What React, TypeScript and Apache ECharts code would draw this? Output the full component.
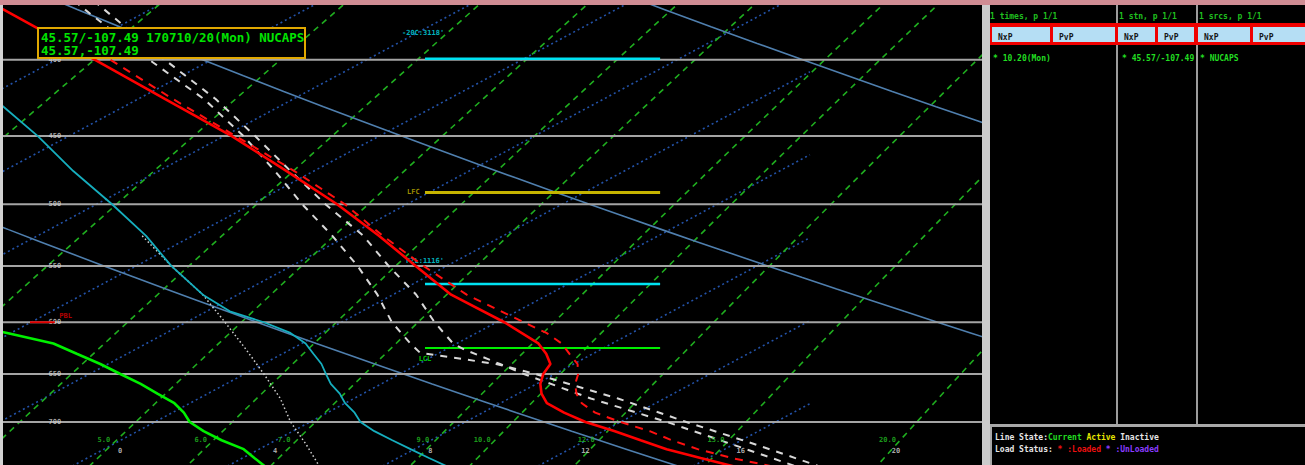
import React, { useEffect, useRef } from "react";
import * as echarts from "echarts";

const WIDTH = 1305;
const HEIGHT = 465;

// ---- skew-T geometry ----
const SKEW = 31.2; // degC of horizontal shift per ln(p) unit
const P_REF = 727.6; // hPa where plotted x equals temperature
const X_MIN = -2.706;
const X_MAX = 22.526;
const P_MIN = 367.5;
const P_MAX = 748.1;

// ---- background reference lines ----
const isobars = [400, 450, 500, 550, 600, 650, 700];
const isobarLabelX = -1.37;
const isotherms = [-28, -24, -20, -16, -12, -8, -4, 0, 4, 8, 12, 16, 20];
const isothermLabels = [0, 4, 8, 12, 16, 20];
const ISOTHERM_LABEL_P = 732;
const ISOTHERM_END = 18.09;
const dryAdiabatsK = [313.6, 333.9, 354.0];
const mixingRatios = [2, 3, 4, 5, 6, 7, 9, 10, 12, 15, 20];
const mixingLabels = [5, 6, 7, 9, 10, 12, 15, 20];
const MIX_SHIFT = 0.75;
const MIX_LABEL_P = 719.7;

// ---- sounding (hPa, degC) ----
const tempP = [360, 370, 400, 425, 450, 475, 500, 525, 550, 575, 600, 620, 630, 640, 650, 660, 670, 680, 690, 700, 710, 720, 730, 740, 750, 760];
const tempC = [-25.5, -23.8, -19.0, -15.3, -11.8, -8.7, -5.8, -3.2, -0.8, 1.5, 4.2, 6.1, 6.8, 7.4, 7.7, 8.1, 8.6, 9.2, 10.1, 11.1, 12.3, 13.4, 14.5, 15.8, 17.1, 18.3];

const virtP = [400, 425, 450, 475, 500, 525, 550, 575, 600, 610, 620, 630, 640, 650, 660, 670, 680, 690, 700, 710, 720, 730, 740, 750];
const virtC = [-18.6, -15.1, -11.7, -8.5, -5.6, -3.1, -0.6, 1.9, 4.7, 5.8, 6.7, 7.4, 8.1, 8.6, 9.0, 9.5, 10.1, 10.9, 12.0, 13.2, 14.2, 15.3, 16.6, 18.1];

const dewP = [600, 610, 620, 630, 640, 650, 660, 670, 680, 690, 700, 710, 720, 730, 740, 750, 760];
const dewC = [-10.0, -8.1, -6.4, -5.3, -4.2, -3.2, -2.2, -1.3, -0.4, 0.3, 0.9, 1.7, 2.6, 3.6, 4.3, 5.0, 5.6];

const wetP = [400, 425, 450, 475, 500, 525, 550, 575, 590, 600, 610, 620, 630, 640, 650, 660, 670, 680, 690, 700, 710, 720, 730, 740, 750];
const wetC = [-22.7, -19.7, -16.8, -14.2, -11.6, -9.2, -7.1, -4.9, -3.4, -2.0, -0.8, 0.1, 0.8, 1.5, 2.1, 2.7, 3.4, 4.0, 4.7, 5.3, 6.1, 7.0, 7.9, 8.8, 9.7];

const dotP = [525, 550, 575, 600, 625, 650, 675, 700, 725, 750];
const dotC = [-9.3, -7.1, -4.9, -3.0, -1.2, 0.5, 2.1, 3.5, 5.0, 6.4];

const parcel1P = [360, 370, 400, 425, 450, 475, 500, 525, 550, 575, 600, 620, 629, 640, 650, 675, 700, 725, 750];
const parcel1C = [-23.1, -21.7, -17.6, -14.3, -11.5, -9.0, -6.7, -4.4, -2.3, -0.4, 1.3, 2.8, 3.5, 6.0, 7.5, 10.8, 13.7, 16.6, 19.3];
const parcel2P = [360, 370, 400, 425, 450, 475, 500, 525, 550, 575, 600, 620, 626, 640, 650, 675, 700, 725, 750];
const parcel2C = [-22.6, -21.2, -17.2, -14.0, -11.2, -8.6, -6.1, -3.6, -1.5, 0.6, 2.4, 3.9, 4.5, 6.1, 7.2, 10.1, 13.2, 16.0, 18.7];

// ---- level markers ----
const levelNames = ["-20C:3118'", "LFC", "FZL:1116'", "LCL"];
const levelP = [399.4, 491.0, 565.5, 624.4];
const levelLabelP = [384.0, 491.0, 546.0, 635.0];
const levelLabelX = [8.12, 8.1, 8.17, 8.17];
const LEVEL_X = [8.17, 14.23];
const pblP = 600;
const pblX = [-2.01, -1.37];

// ---- right-hand panel texts ----
const headerTexts = ["1 times, p 1/1", "1 stn, p 1/1", "1 srcs, p 1/1"];
const itemTexts = ["* 10.20(Mon)", "* 45.57/-107.49", "* NUCAPS"];
const buttonTexts = ["NxP", "PvP", "NxP", "PvP", "NxP", "PvP"];
const titleLines = ["45.57/-107.49 170710/20(Mon) NUCAPS", "45.57,-107.49"];

const skewX = (t: number, p: number) => t + SKEW * Math.log(P_REF / p);
const pts = (ps: number[], ts: number[]) => ps.map((p, i) => [skewX(ts[i], p), p]);
const range = (a: number, b: number, s: number) => {
  const r: number[] = [];
  for (let v = a; v <= b + 1e-9; v += s) r.push(v);
  return r;
};
const tdForMixing = (w: number, p: number) => {
  const e = (w * p) / (622 + w);
  const l = Math.log(e / 6.112);
  return (243.5 * l) / (17.67 - l) + MIX_SHIFT;
};

const line = (data: number[][], color: string, width: number, type: any, z: number) => ({
  type: "line",
  data,
  symbol: "none",
  showSymbol: false,
  silent: true,
  clip: true,
  z,
  lineStyle: { color, width, type, cap: "butt" },
  emphasis: { disabled: true },
});

const labels = (data: number[][], texts: string[], color: string, size: number, opts: any = {}) => ({
  type: "scatter",
  data,
  symbolSize: 1,
  silent: true,
  z: opts.z ?? 12,
  itemStyle: { color: "rgba(0,0,0,0)" },
  label: {
    show: true,
    position: opts.position ?? "inside",
    distance: 2,
    offset: opts.offset ?? [0, 0],
    color,
    fontSize: size,
    fontFamily: "DejaVu Sans Mono",
    fontWeight: "bold",
    formatter: (p: any) => texts[p.dataIndex],
  },
});

function buildOption() {
  const series: any[] = [];

  // isotherms (dotted blue), stop at ISOTHERM_END
  isotherms.forEach((t) => {
    const pBot = 780;
    const pClip = P_REF * Math.exp(-(ISOTHERM_END - t) / SKEW);
    const pTop = Math.max(340, pClip);
    if (pTop >= pBot) return;
    series.push(line([[skewX(t, pBot), pBot], [skewX(t, pTop), pTop]], "#2352a8", 1.6, [2, 3], 2));
  });

  // dry adiabats
  dryAdiabatsK.forEach((th) => {
    const data = range(340, 780, 10).map((p) => [skewX(th * Math.pow(p / 1000, 0.286) - 273.15, p), p]);
    series.push(line(data, "#4f7fae", 1.6, "solid", 3));
  });

  // mixing ratio lines
  mixingRatios.forEach((w) => {
    const data = range(340, 780, 20).map((p) => [skewX(tdForMixing(w, p), p), p]);
    series.push(line(data, "#1fae1f", 1.6, [6, 5], 2));
  });

  // isobars
  isobars.forEach((p) => {
    series.push(line([[X_MIN - 1, p], [X_MAX + 1, p]], "#a4a4a4", 2, "solid", 5));
  });
  series.push(labels(isobars.map((p) => [isobarLabelX, p]), isobars.map(String), "#cfcfcf", 7, { z: 6 }));

  // isotherm labels, mixing ratio labels
  series.push(labels(isothermLabels.map((t) => [t, ISOTHERM_LABEL_P]), isothermLabels.map(String), "#d6d6d6", 7, { offset: [12, 0] }));
  series.push(labels(mixingLabels.map((w) => [skewX(tdForMixing(w, MIX_LABEL_P), MIX_LABEL_P), MIX_LABEL_P]), mixingLabels.map((w) => w.toFixed(1)), "#22c222", 7, { offset: [-13, 0] }));

  // level markers
  const levelColors = ["#00e2f2", "#c6b400", "#00e2f2", "#00ee00"];
  const levelWidths = [2.5, 3, 2.5, 2];
  levelP.forEach((p, i) => {
    series.push(line([[LEVEL_X[0], p], [LEVEL_X[1], p]], levelColors[i], levelWidths[i], "solid", 7));
    series.push(labels([[levelLabelX[i], levelLabelP[i]]], [levelNames[i]], levelColors[i], 7, { position: i === 1 ? "left" : "inside", z: 8 }));
  });
  series.push(line([[pblX[0], pblP], [pblX[1], pblP]], "#e00000", 2, "solid", 7));
  series.push(labels([[pblX[1] + 0.28, 594]], ["PBL"], "#e00000", 7, { z: 8 }));

  // sounding traces
  series.push(line(pts(dotP, dotC), "#d0d0d0", 1.5, [1.5, 2.5], 8));
  series.push(line(pts(wetP, wetC), "#16aebe", 1.8, "solid", 9));
  series.push(line(pts(parcel1P, parcel1C), "#d8d8d8", 2, [7, 7], 9));
  series.push(line(pts(parcel2P, parcel2C), "#d8d8d8", 2, [7, 7], 9));
  series.push(line(pts(virtP, virtC), "#ff1010", 2, [8, 7], 10));
  series.push(line(pts(tempP, tempC), "#ff0000", 2.6, "solid", 11));
  series.push(line(pts(dewP, dewC), "#00f000", 2.6, "solid", 11));

  // ---------- graphic (frame + side panel) ----------
  const F8 = 'bold 8px "DejaVu Sans Mono"';
  const CW = 4.817;
  const g: any[] = [];
  const rect = (x: number, y: number, w: number, h: number, fill: string, z = 200, stroke?: string, lw = 0) =>
    g.push({ type: "rect", z, silent: true, shape: { x, y, width: w, height: h }, style: { fill, stroke, lineWidth: lw } });
  const text = (x: number, y: number, t: string, fill: string, font = F8, z = 220) =>
    g.push({ type: "text", z, silent: true, x, y, style: { text: t, fill, font, textVerticalAlign: "middle", verticalAlign: "middle" } });

  // title box
  rect(38, 28, 267, 30, "#000000", 190, "#e0a800", 2);
  text(41, 37.5, titleLines[0], "#00e400", 'bold 12.5px "DejaVu Sans Mono"', 195);
  text(41, 50.5, titleLines[1], "#00e400", 'bold 12.5px "DejaVu Sans Mono"', 195);

  // frame pieces
  rect(0, 0, WIDTH, 5, "#cf8c93", 230);
  rect(0, 5, 3, 460, "#d2d2d2", 200);
  rect(982, 5, 8, 460, "#cbcbcb", 200);

  // right panel columns
  rect(1116, 5, 2, 420, "#9c9c9c", 205);
  rect(1196, 5, 2, 420, "#9c9c9c", 205);
  const colX = [990, 1119, 1199];
  headerTexts.forEach((t, i) => text(colX[i], 16, t, "#1fbf1f"));

  // button bar
  rect(990, 23, 315, 22, "#f00000", 210);
  const cells = [
    [992, 58], [1053, 62], [1118, 37], [1158, 36], [1198, 52], [1253, 52],
  ];
  cells.forEach(([x, w], i) => {
    rect(x, 27, w, 15, "#b5def4", 211);
    text(x + 6, 37.5, buttonTexts[i], "#141414", F8, 212);
  });

  const itemX = [993, 1122, 1200];
  itemTexts.forEach((t, i) => text(itemX[i], 58, t, "#22dd22"));

  // status box
  rect(990, 424, 315, 3, "#a8a8a8", 205);
  rect(990, 427, 2, 38, "#a8a8a8", 205);
  const x0 = 995;
  text(x0, 437, "Line State:", "#e6e6e6");
  text(x0 + 11 * CW, 437, "Current", "#22dd22");
  text(x0 + 19 * CW, 437, "Active", "#e6e600");
  text(x0 + 26 * CW, 437, "Inactive", "#e6e6e6");
  text(x0, 449, "Load Status:", "#e6e6e6");
  text(x0 + 13 * CW, 449, "* :Loaded", "#ee1010");
  text(x0 + 23 * CW, 449, "* :UnLoaded", "#8a3cff");

  return {
    animation: false,
    backgroundColor: "#000000",
    grid: { left: 3, top: 5, width: 979, height: 460, show: false },
    xAxis: { type: "value", min: X_MIN, max: X_MAX, show: false },
    yAxis: { type: "log", logBase: 10, min: P_MIN, max: P_MAX, inverse: true, show: false },
    series,
    graphic: { elements: g },
  };
}

export default function App() {
  const ref = useRef<HTMLDivElement>(null);
  useEffect(() => {
    if (!ref.current) return;
    const chart = echarts.init(ref.current, undefined, { renderer: "svg" });
    chart.setOption(buildOption() as any);
    return () => chart.dispose();
  }, []);
  return (
    <div
      ref={ref}
      style={{ position: "fixed", left: 0, top: 0, width: WIDTH, height: HEIGHT, background: "#000" }}
    />
  );
}
